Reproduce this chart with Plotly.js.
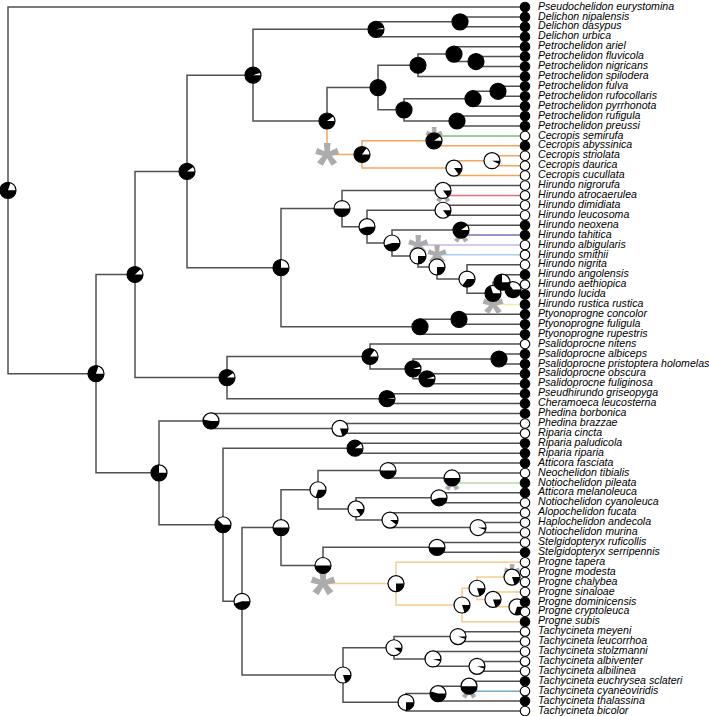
<!DOCTYPE html>
<html><head><meta charset="utf-8">
<script src="https://cdn.plot.ly/plotly-3.0.1.min.js"></script>
<style>html,body{margin:0;padding:0;background:#fff;overflow:hidden}</style>
</head><body><div id="chart" style="width:709px;height:716px"></div>
<script>
// ---------------- DATA ----------------
const tipNames = [
"Pseudochelidon eurystomina","Delichon nipalensis","Delichon dasypus","Delichon urbica",
"Petrochelidon ariel","Petrochelidon fluvicola","Petrochelidon nigricans","Petrochelidon spilodera",
"Petrochelidon fulva","Petrochelidon rufocollaris","Petrochelidon pyrrhonota","Petrochelidon rufigula",
"Petrochelidon preussi","Cecropis semirufa","Cecropis abyssinica","Cecropis striolata",
"Cecropis daurica","Cecropis cucullata","Hirundo nigrorufa","Hirundo atrocaerulea",
"Hirundo dimidiata","Hirundo leucosoma","Hirundo neoxena","Hirundo tahitica",
"Hirundo albigularis","Hirundo smithii","Hirundo nigrita","Hirundo angolensis",
"Hirundo aethiopica","Hirundo lucida","Hirundo rustica rustica","Ptyonoprogne concolor",
"Ptyonoprogne fuligula","Ptyonoprogne rupestris","Psalidoprocne nitens","Psalidoprocne albiceps",
"Psalidoprocne pristoptera holomelas","Psalidoprocne obscura","Psalidoprocne fuliginosa","Pseudhirundo griseopyga",
"Cheramoeca leucosterna","Phedina borbonica","Phedina brazzae","Riparia cincta",
"Riparia paludicola","Riparia riparia","Atticora fasciata","Neochelidon tibialis",
"Notiochelidon pileata","Atticora melanoleuca","Notiochelidon cyanoleuca","Alopochelidon fucata",
"Haplochelidon andecola","Notiochelidon murina","Stelgidopteryx ruficollis","Stelgidopteryx serripennis",
"Progne tapera","Progne modesta","Progne chalybea","Progne sinaloae",
"Progne dominicensis","Progne cryptoleuca","Progne subis","Tachycineta meyeni",
"Tachycineta leucorrhoa","Tachycineta stolzmanni","Tachycineta albiventer","Tachycineta albilinea",
"Tachycineta euchrysea sclateri","Tachycineta cyaneoviridis","Tachycineta thalassina","Tachycineta bicolor"];
// 1 = black state, 0 = white state
const tipState = [1,1,1,1,1,1,1,1,1,1,1,1,1,0,1,0,0,0,0,0,0,0,1,1,0,0,0,1,0,1,1,1,1,1,0,1,1,1,1,1,
                  1,1,0,0,1,1,1,0,1,1,0,0,0,0,0,1,0,0,0,0,1,0,1,0,0,0,0,0,1,0,1,0];
const tipDepth = 517;
// internal nodes: id, children (tip numbers or node ids), depth from root, white-state probability
const nodeIds = ["n1","n2","n3","n4","n5","n6","n7","n8","n9","n10","n11","n12","n13","n14","n15","n16","n17","n18","n19","n20",
"n21","n22","n23","n24","n25","n26","n27","n28","n29","n30","n31","n32","n33","n34","n35","n36","n37","n38","n39","n40",
"n41","n42","n43","n44","n45","n46","n47","n48","n49","n50","n51","n52","n53","n54","n55","n56","n57","n58","n59","n60",
"n61","n62","n63","n64","n65","n66","n67","n68","n69","n70","n71"];
const nodeKids = [[1,"n2"],["n3","n42"],["n4","n36"],["n5","n21"],["n6","n8"],["n7",4],[2,3],["n9","n17"],["n10","n13"],["n11",8],
[5,"n12"],[6,7],["n14","n16"],["n15",11],[9,10],[12,13],["n18","n19"],[14,15],["n20",18],[16,17],
["n22","n34"],["n23","n24"],[19,20],["n25","n26"],[21,22],["n27","n28"],[23,24],[25,"n29"],[26,"n30"],[27,"n31"],
["n32",31],[28,"n33"],[29,30],["n35",34],[32,33],["n37","n41"],[35,"n38"],["n39","n40"],[36,37],[38,39],
[40,41],["n43","n45"],[42,"n44"],[43,44],["n46","n47"],[45,46],["n48","n64"],["n49","n56"],["n50","n52"],[47,"n51"],
[48,49],["n53","n54"],[50,51],[52,"n55"],[53,54],["n57","n58"],[55,56],[57,"n59"],["n60",63],["n61","n62"],
[58,59],[60,"n63"],[61,62],["n65","n69"],["n66","n67"],[64,65],[66,"n68"],[67,68],["n70",72],["n71",71],[69,70]];
const nodeDepth = [0,88,127,179,245,368,452,319,370,410,446,468,396,465,490,449,354,426,446,484,
273,334,435,359,435,384,453,410,429,459,485,494,505,412,451,219,362,405,491,419,
379,151,203,332,215,347,234,273,310,380,444,348,431,382,470,315,429,388,454,469,
504,485,509,335,386,450,425,469,398,430,461];
const nodeWhite = [0.2,0.2,0.12,0.1,0.05,0.03,0,0.1,0,0,0,0,0,0,0,0,0.15,0.1,0.85,0.93,
0.25,0.5,0.85,0.55,0.85,0.55,0.1,0.75,0.75,0.65,0.3,0.25,0.35,0,0,0.1,0.15,0.05,0,0.05,
0.02,0.25,0.47,0.8,0.38,0.1,0.55,0.5,0.7,0.5,0.5,0.85,0.55,0.9,0.95,0.5,0.5,0.75,0.8,0.8,
0.8,0.8,0.7,0.8,0.9,0.95,0.95,0.95,0.75,0.45,0.5];
// edges (by child) where a regime shift is inferred
const shiftEdges = ["n17",14,20,24,25,26,31,49,"n58",58,70];

// ---------------- STYLE ----------------
const shiftColor = ["#f4a65a","#79c279","#e0717c","#7d6db6","#cbb7e3","#a8d2ea","#f2efa6","#b9dca4","#f8cb8f","#f2a1aa","#79a8cb"];
const shiftStar = [62,44,44,44,52,50,54,44,64,42,44];
const baseColor = "#505050";
const W = 709, H = 716;
const xRange = [-8, 701];
const yTop = 1 - 7/9.915, yBot = 1 + (H-7)/9.915;
const pxX = W/(xRange[1]-xRange[0]);
const pxY = H/(yBot-yTop);

// ---------------- BUILD ----------------
const idx = {}; nodeIds.forEach((id,i)=>idx[id]=i);
const pos = {};
function key(c){return typeof c==="number" ? "t"+c : c;}
function place(c){
  if (typeof c==="number"){ pos[key(c)] = {x:tipDepth, y:c}; return pos[key(c)]; }
  const i = idx[c];
  const ys = nodeKids[i].map(k=>place(k).y);
  pos[c] = {x:nodeDepth[i], y:(Math.min(...ys)+Math.max(...ys))/2};
  return pos[c];
}
place("n1");
const shiftIdx = {}; shiftEdges.forEach((e,i)=>shiftIdx[key(e)]=i);
const col = {n1: baseColor};
const segs = {};
function addSeg(c, xs, ys){ if(!segs[c]) segs[c]={x:[],y:[]}; segs[c].x.push(...xs,null); segs[c].y.push(...ys,null); }
const stars = [];
function walk(id){
  const i = idx[id]; const p = pos[id];
  nodeKids[i].forEach(k=>{
    const kk = key(k); const cp = pos[kk];
    let c = col[id];
    if (shiftIdx[kk]!==undefined){ c = shiftColor[shiftIdx[kk]]; stars.push({x:p.x, y:cp.y, s:shiftStar[shiftIdx[kk]]}); }
    col[kk] = c;
    addSeg(c, [p.x,p.x,cp.x], [p.y,cp.y,cp.y]);
    if (typeof k!=="number") walk(k);
  });
}
walk("n1");

const traces = [];
const order = Object.keys(segs).sort((a,b)=> (a===baseColor?-1:0)-(b===baseColor?-1:0));
order.forEach(c=>traces.push({type:"scatter",mode:"lines",x:segs[c].x,y:segs[c].y,line:{color:c,width:1.5},hoverinfo:"skip"}));
// asterisks (glyph centre sits above the text's middle; compensate)
stars.forEach(s=>traces.push({type:"scatter",mode:"text",x:[s.x],y:[s.y + 0.25*s.s/pxY],text:["*"],textposition:"middle center",
  textfont:{family:"Liberation Sans, Arial, sans-serif",size:s.s,color:"#acacac",weight:"bold"},hoverinfo:"skip"}));
// node pies
const nx = nodeIds.map(id=>pos[id].x), ny = nodeIds.map(id=>pos[id].y);
traces.push({type:"scatter",mode:"markers",x:nx,y:ny,marker:{size:16,color:"#ffffff",line:{color:"#000",width:0}},hoverinfo:"skip"});
const R = 8, wx=[], wy=[];
nodeIds.forEach((id,i)=>{
  const w = nodeWhite[i]; if (w>=1) return;
  const a0 = 2*Math.PI*w, a1 = 2*Math.PI, n = Math.max(4, Math.ceil((a1-a0)/0.08));
  wx.push(nx[i]); wy.push(ny[i]);
  for(let j=0;j<=n;j++){ const a=a0+(a1-a0)*j/n; wx.push(nx[i]+R*Math.cos(a)/pxX); wy.push(ny[i]-R*Math.sin(a)/pxY); }
  wx.push(nx[i]); wy.push(ny[i]); wx.push(null); wy.push(null);
});
traces.push({type:"scatter",mode:"lines",x:wx,y:wy,fill:"toself",fillcolor:"#000",line:{width:0,color:"#000"},hoverinfo:"skip"});
traces.push({type:"scatter",mode:"markers",x:nx,y:ny,marker:{symbol:"circle-open",size:16,color:"#000",line:{width:1.2,color:"#000"}},hoverinfo:"skip"});
// tips
const tipY = tipNames.map((_,i)=>i+1);
traces.push({type:"scatter",mode:"markers",x:tipY.map(()=>tipDepth),y:tipY,
  marker:{size:9.5,color:tipState.map(s=>s?"#000":"#fff"),line:{color:"#000",width:1.1}},hoverinfo:"skip"});
traces.push({type:"scatter",mode:"text",x:tipY.map(()=>tipDepth+13),y:tipY,text:tipNames,textposition:"middle right",
  textfont:{family:"Liberation Sans, Arial, sans-serif",size:10.6,color:"#000",style:"italic"},hoverinfo:"skip"});

const layout = {width:W,height:H,margin:{l:0,r:0,t:0,b:0},showlegend:false,hovermode:false,
  paper_bgcolor:"#fff",plot_bgcolor:"#fff",
  xaxis:{range:xRange,visible:false,fixedrange:true},
  yaxis:{range:[yBot,yTop],visible:false,fixedrange:true}};
Plotly.newPlot("chart",traces,layout,{staticPlot:true,displayModeBar:false});
</script></body></html>
